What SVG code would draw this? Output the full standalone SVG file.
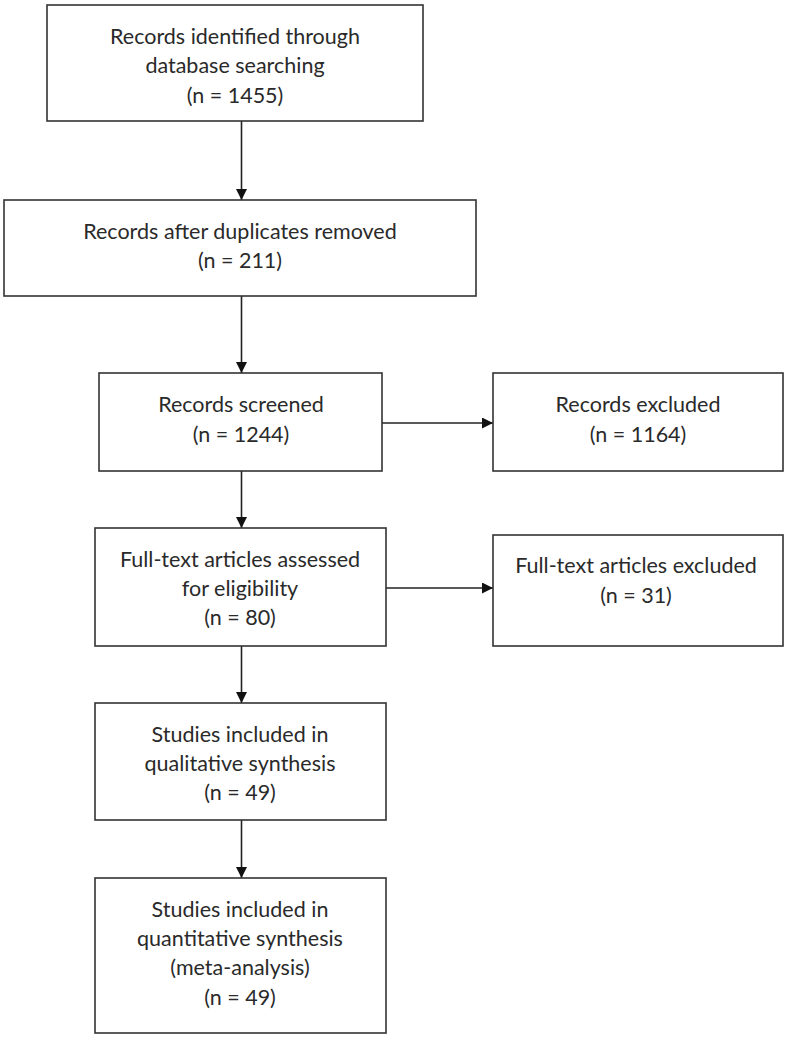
<svg xmlns="http://www.w3.org/2000/svg" width="788" height="1039" viewBox="0 0 788 1039">
  <defs>
    <marker id="arrow" viewBox="0 0 10 10" refX="10" refY="5" markerUnits="userSpaceOnUse" markerWidth="11" markerHeight="11" orient="auto">
      <path d="M0,0 L10,5 L0,10 z" fill="#111"/>
    </marker>
    <style>
      .box { fill: #ffffff; stroke: #333333; stroke-width: 1.6; }
      .lbl { font-family: Lato, "Liberation Sans", sans-serif; font-size: 21.5px; fill: #2a2a2a; text-anchor: middle; }
      .conn { stroke: #222222; stroke-width: 1.6; fill: none; marker-end: url(#arrow); }
    </style>
  </defs>
  <rect width="788" height="1039" fill="#ffffff"/>

  <g id="connectors">
    <line class="conn" x1="241.5" y1="121" x2="241.5" y2="200"/>
    <line class="conn" x1="241.5" y1="296" x2="241.5" y2="373"/>
    <line class="conn" x1="382" y1="423" x2="493" y2="423"/>
    <line class="conn" x1="241.5" y1="471" x2="241.5" y2="528"/>
    <line class="conn" x1="386" y1="588" x2="493" y2="588"/>
    <line class="conn" x1="241.5" y1="646" x2="241.5" y2="703"/>
    <line class="conn" x1="241.5" y1="820" x2="241.5" y2="878"/>
  </g>

  <g id="identified">
    <rect class="box" x="47" y="5" width="376" height="116"/>
    <text class="lbl" x="235" y="44">Records identified through</text>
    <text class="lbl" x="235" y="73">database searching</text>
    <text class="lbl" x="235" y="103">(n = 1455)</text>
  </g>

  <g id="deduplicated">
    <rect class="box" x="4" y="200" width="472" height="96"/>
    <text class="lbl" x="240" y="239">Records after duplicates removed</text>
    <text class="lbl" x="240" y="268">(n = 211)</text>
  </g>

  <g id="screened">
    <rect class="box" x="99" y="373" width="283" height="98"/>
    <text class="lbl" x="241" y="412">Records screened</text>
    <text class="lbl" x="241" y="442">(n = 1244)</text>
  </g>

  <g id="excluded">
    <rect class="box" x="493" y="373" width="290" height="98"/>
    <text class="lbl" x="638" y="412">Records excluded</text>
    <text class="lbl" x="638" y="442">(n = 1164)</text>
  </g>

  <g id="fulltext">
    <rect class="box" x="95" y="528" width="291" height="118"/>
    <text class="lbl" x="240" y="567">Full-text articles assessed</text>
    <text class="lbl" x="240" y="596">for eligibility</text>
    <text class="lbl" x="240" y="625">(n = 80)</text>
  </g>

  <g id="fulltext-excluded">
    <rect class="box" x="493" y="535" width="290" height="111"/>
    <text class="lbl" x="636" y="573">Full-text articles excluded</text>
    <text class="lbl" x="636" y="603">(n = 31)</text>
  </g>

  <g id="qualitative">
    <rect class="box" x="95" y="703" width="291" height="117"/>
    <text class="lbl" x="240" y="742">Studies included in</text>
    <text class="lbl" x="240" y="771">qualitative synthesis</text>
    <text class="lbl" x="240" y="800">(n = 49)</text>
  </g>

  <g id="quantitative">
    <rect class="box" x="95" y="878" width="291" height="155"/>
    <text class="lbl" x="240" y="917">Studies included in</text>
    <text class="lbl" x="240" y="946">quantitative synthesis</text>
    <text class="lbl" x="240" y="975">(meta-analysis)</text>
    <text class="lbl" x="240" y="1005">(n = 49)</text>
  </g>
</svg>
